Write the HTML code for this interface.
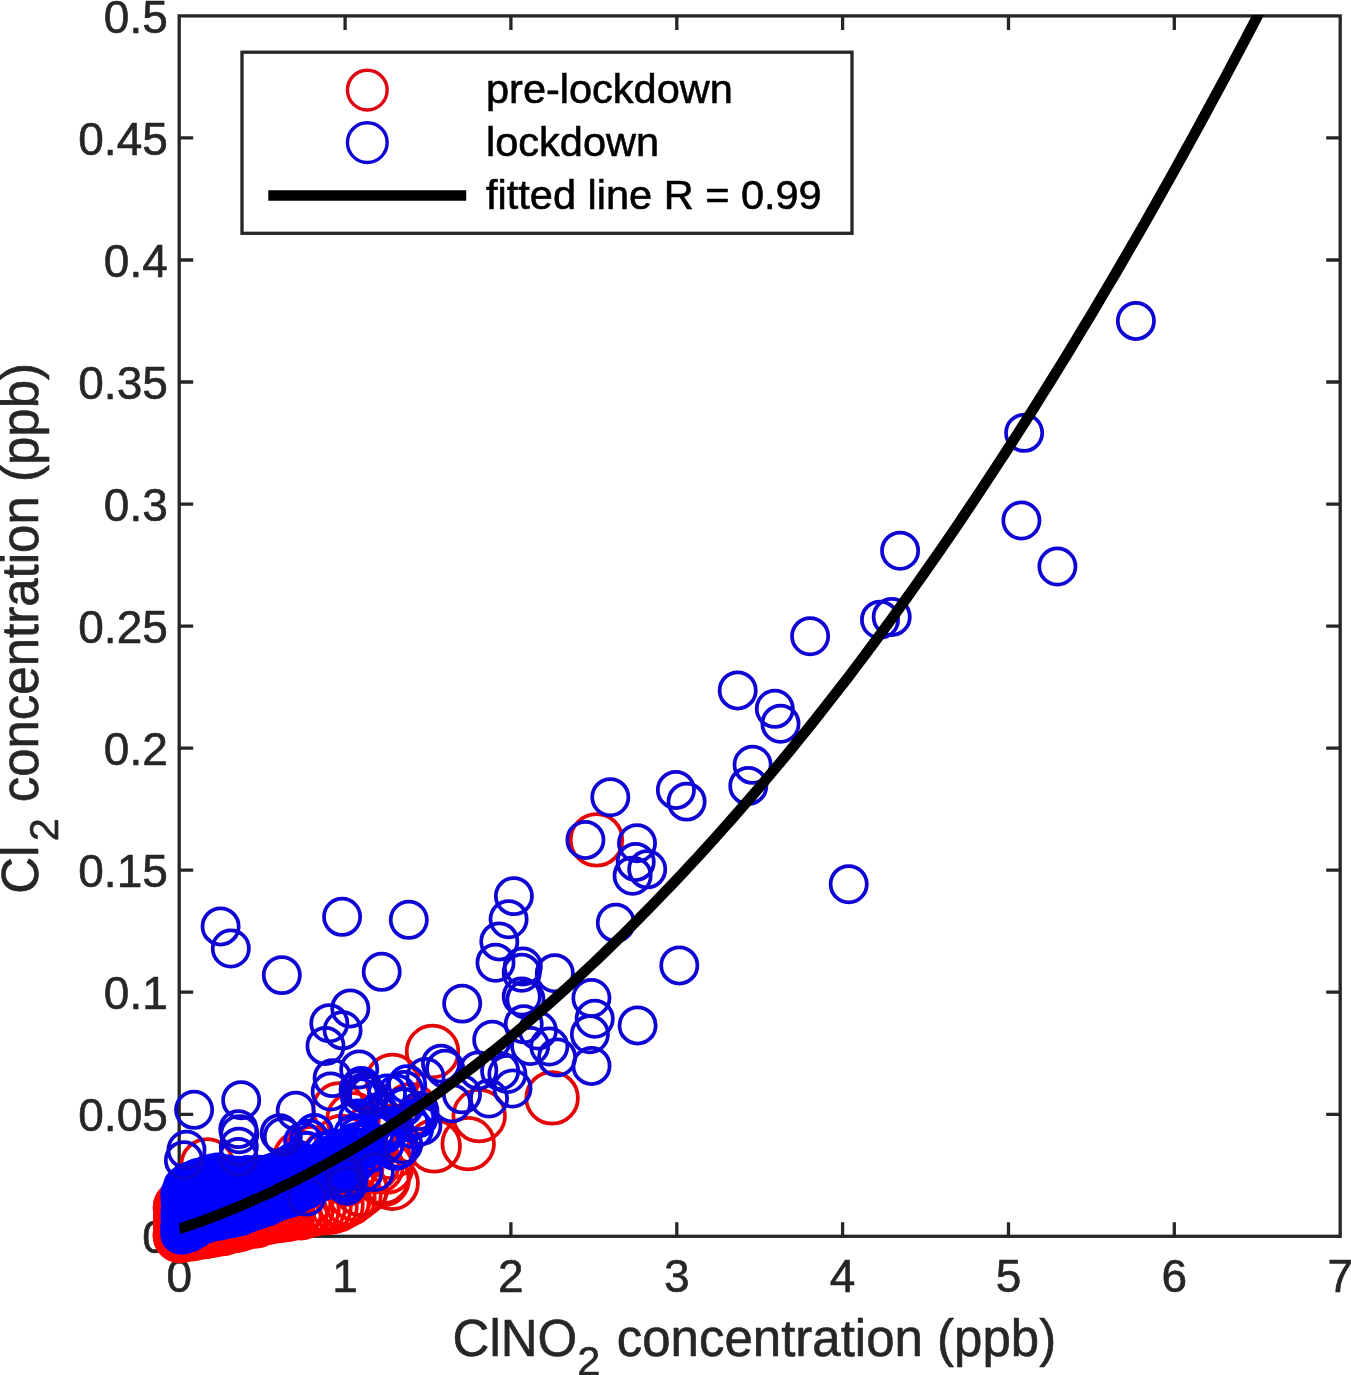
<!DOCTYPE html>
<html lang="en">
<head>
<meta charset="utf-8">
<title>Cl2 vs ClNO2 concentration</title>
<style>
html,body{margin:0;padding:0;background:#fff;}
body{width:1351px;height:1375px;overflow:hidden;}
svg{display:block;}
text{font-family:"Liberation Sans",Arial,Helvetica,sans-serif;fill:#262626;stroke:#262626;stroke-width:0.6px;stroke-linejoin:round;}
.tk{font-size:46.0px;}
.lg{font-size:41.5px;fill:#000;stroke:#000;}
.ax{font-size:51.0px;}
.sb{font-size:41.5px;}
.r{fill:none;stroke:#e40606;stroke-width:3.75;}
.b{fill:none;stroke:#0e04d4;stroke-width:3.75;}
.R{fill:none;stroke:#ff0000;stroke-width:3.75;}
.B{fill:none;stroke:#0000ff;stroke-width:3.75;}
</style>
</head>
<body>
<svg width="1351" height="1375" viewBox="0 0 1351 1375">
<rect x="0" y="0" width="1351" height="1375" fill="#fff"/>
<g stroke="#262626" stroke-width="3.3" fill="none" stroke-linecap="butt">
<rect x="179.2" y="15.9" width="1161.0" height="1220.4"/>
<path d="M345.1 15.9 v14.0 M510.9 1236.3 v-14.0 M510.9 15.9 v14.0 M676.8 1236.3 v-14.0 M676.8 15.9 v14.0 M842.6 1236.3 v-14.0 M842.6 15.9 v14.0 M1008.5 1236.3 v-14.0 M1008.5 15.9 v14.0 M1174.3 1236.3 v-14.0 M1174.3 15.9 v14.0 M179.2 1114.3 h14.0 M1340.2 1114.3 h-14.0 M179.2 992.2 h14.0 M1340.2 992.2 h-14.0 M179.2 870.2 h14.0 M1340.2 870.2 h-14.0 M179.2 748.1 h14.0 M1340.2 748.1 h-14.0 M179.2 626.1 h14.0 M1340.2 626.1 h-14.0 M179.2 504.1 h14.0 M1340.2 504.1 h-14.0 M179.2 382.0 h14.0 M1340.2 382.0 h-14.0 M179.2 260.0 h14.0 M1340.2 260.0 h-14.0 M179.2 137.9 h14.0 M1340.2 137.9 h-14.0"/>
</g>
<g class="tk" text-anchor="middle">
<text x="179.2" y="1291.7">0</text>
<text x="345.1" y="1291.7">1</text>
<text x="510.9" y="1291.7">2</text>
<text x="676.8" y="1291.7">3</text>
<text x="842.6" y="1291.7">4</text>
<text x="1008.5" y="1291.7">5</text>
<text x="1174.3" y="1291.7">6</text>
<text x="1340.2" y="1291.7">7</text>
</g>
<g class="tk" text-anchor="end">
<text x="167.8" y="1253.2">0</text>
<text x="167.8" y="1131.2">0.05</text>
<text x="167.8" y="1009.1">0.1</text>
<text x="167.8" y="887.1">0.15</text>
<text x="167.8" y="765.0">0.2</text>
<text x="167.8" y="643.0">0.25</text>
<text x="167.8" y="521.0">0.3</text>
<text x="167.8" y="398.9">0.35</text>
<text x="167.8" y="276.9">0.4</text>
<text x="167.8" y="154.8">0.45</text>
<text x="167.8" y="32.8">0.5</text>
</g>
<text class="ax" x="452.6" y="1355.6">ClNO<tspan class="sb" dy="19.5">2</tspan><tspan dy="-19.5" dx="2.2"> concentration (ppb)</tspan></text>
<text class="ax" transform="translate(38.0 893.8) rotate(-90)">Cl<tspan class="sb" dy="19.5" dx="4.5">2</tspan><tspan dy="-19.5" dx="1.5"> concentration (ppb)</tspan></text>
<g id="points">
<circle class="R" cx="249.1" cy="1215.4" r="25.8"/>
<circle class="R" cx="247.1" cy="1201.1" r="25.8"/>
<circle class="R" cx="275.1" cy="1194.5" r="25.8"/>
<circle class="R" cx="215.4" cy="1219.8" r="25.8"/>
<circle class="R" cx="258.1" cy="1205.3" r="25.8"/>
<circle class="R" cx="198.9" cy="1202.0" r="25.8"/>
<circle class="R" cx="217.0" cy="1208.7" r="25.8"/>
<circle class="R" cx="232.9" cy="1205.1" r="25.8"/>
<circle class="R" cx="236.5" cy="1222.7" r="25.8"/>
<circle class="R" cx="272.5" cy="1195.1" r="25.8"/>
<circle class="R" cx="191.6" cy="1232.7" r="25.8"/>
<circle class="R" cx="281.1" cy="1189.8" r="25.8"/>
<circle class="R" cx="254.2" cy="1194.4" r="25.8"/>
<circle class="R" cx="251.2" cy="1219.3" r="25.8"/>
<circle class="R" cx="199.5" cy="1210.1" r="25.8"/>
<circle class="R" cx="195.8" cy="1220.4" r="25.8"/>
<circle class="R" cx="247.7" cy="1196.4" r="25.8"/>
<circle class="R" cx="273.2" cy="1212.0" r="25.8"/>
<circle class="R" cx="233.2" cy="1210.6" r="25.8"/>
<circle class="R" cx="268.0" cy="1207.8" r="25.8"/>
<circle class="R" cx="250.0" cy="1202.7" r="25.8"/>
<circle class="R" cx="204.4" cy="1216.8" r="25.8"/>
<circle class="R" cx="234.2" cy="1192.5" r="25.8"/>
<circle class="R" cx="227.1" cy="1212.7" r="25.8"/>
<circle class="R" cx="277.8" cy="1188.4" r="25.8"/>
<circle class="R" cx="284.3" cy="1206.0" r="25.8"/>
<circle class="R" cx="257.4" cy="1219.3" r="25.8"/>
<circle class="R" cx="271.1" cy="1189.2" r="25.8"/>
<circle class="R" cx="231.7" cy="1199.6" r="25.8"/>
<circle class="R" cx="248.3" cy="1219.6" r="25.8"/>
<circle class="R" cx="263.8" cy="1203.1" r="25.8"/>
<circle class="R" cx="187.1" cy="1230.1" r="25.8"/>
<circle class="R" cx="206.5" cy="1223.4" r="25.8"/>
<circle class="R" cx="236.5" cy="1219.8" r="25.8"/>
<circle class="R" cx="209.6" cy="1217.2" r="25.8"/>
<circle class="R" cx="238.4" cy="1216.8" r="25.8"/>
<circle class="R" cx="205.6" cy="1223.4" r="25.8"/>
<circle class="R" cx="261.0" cy="1204.9" r="25.8"/>
<circle class="R" cx="263.7" cy="1191.8" r="25.8"/>
<circle class="R" cx="190.8" cy="1203.1" r="25.8"/>
<circle class="R" cx="270.8" cy="1211.8" r="25.8"/>
<circle class="R" cx="199.3" cy="1211.2" r="25.8"/>
<circle class="R" cx="244.9" cy="1219.2" r="25.8"/>
<circle class="R" cx="283.7" cy="1188.8" r="25.8"/>
<circle class="R" cx="272.1" cy="1208.1" r="25.8"/>
<circle class="R" cx="250.3" cy="1203.0" r="25.8"/>
<circle class="R" cx="215.9" cy="1204.8" r="25.8"/>
<circle class="R" cx="209.5" cy="1215.8" r="25.8"/>
<circle class="R" cx="199.2" cy="1202.6" r="25.8"/>
<circle class="R" cx="229.1" cy="1196.5" r="25.8"/>
<circle class="R" cx="278.8" cy="1202.9" r="25.8"/>
<circle class="R" cx="200.8" cy="1231.1" r="25.8"/>
<circle class="R" cx="257.4" cy="1199.6" r="25.8"/>
<circle class="R" cx="223.0" cy="1198.0" r="25.8"/>
<circle class="R" cx="224.8" cy="1221.0" r="25.8"/>
<circle class="R" cx="228.1" cy="1209.5" r="25.8"/>
<circle class="R" cx="216.6" cy="1218.3" r="25.8"/>
<circle class="R" cx="240.9" cy="1199.8" r="25.8"/>
<circle class="R" cx="210.3" cy="1224.5" r="25.8"/>
<circle class="R" cx="227.9" cy="1224.2" r="25.8"/>
<circle class="R" cx="258.1" cy="1207.1" r="25.8"/>
<circle class="R" cx="187.0" cy="1216.3" r="25.8"/>
<circle class="R" cx="226.5" cy="1225.3" r="25.8"/>
<circle class="R" cx="253.1" cy="1210.2" r="25.8"/>
<circle class="R" cx="223.4" cy="1197.4" r="25.8"/>
<circle class="R" cx="206.6" cy="1209.8" r="25.8"/>
<circle class="R" cx="266.2" cy="1213.2" r="25.8"/>
<circle class="R" cx="237.5" cy="1194.3" r="25.8"/>
<circle class="R" cx="189.6" cy="1213.8" r="25.8"/>
<circle class="R" cx="256.0" cy="1209.6" r="25.8"/>
<circle class="R" cx="274.3" cy="1214.8" r="25.8"/>
<circle class="R" cx="246.6" cy="1204.9" r="25.8"/>
<circle class="R" cx="229.0" cy="1202.9" r="25.8"/>
<circle class="R" cx="243.7" cy="1221.6" r="25.8"/>
<circle class="R" cx="284.2" cy="1194.8" r="25.8"/>
<circle class="R" cx="248.4" cy="1212.0" r="25.8"/>
<circle class="R" cx="187.3" cy="1217.6" r="25.8"/>
<circle class="R" cx="249.0" cy="1196.4" r="25.8"/>
<circle class="R" cx="202.2" cy="1209.6" r="25.8"/>
<circle class="R" cx="221.6" cy="1218.9" r="25.8"/>
<circle class="R" cx="197.8" cy="1220.3" r="25.8"/>
<circle class="R" cx="258.0" cy="1196.2" r="25.8"/>
<circle class="R" cx="256.8" cy="1212.8" r="25.8"/>
<circle class="R" cx="229.4" cy="1192.6" r="25.8"/>
<circle class="R" cx="279.2" cy="1212.1" r="25.8"/>
<circle class="R" cx="217.1" cy="1212.4" r="25.8"/>
<circle class="R" cx="191.9" cy="1226.4" r="25.8"/>
<circle class="R" cx="233.4" cy="1195.7" r="25.8"/>
<circle class="R" cx="193.9" cy="1203.5" r="25.8"/>
<circle class="R" cx="211.1" cy="1221.7" r="25.8"/>
<circle class="R" cx="223.6" cy="1194.7" r="25.8"/>
<circle class="R" cx="227.6" cy="1211.4" r="25.8"/>
<circle class="R" cx="269.4" cy="1189.0" r="25.8"/>
<circle class="R" cx="196.5" cy="1231.1" r="25.8"/>
<circle class="R" cx="222.9" cy="1214.2" r="25.8"/>
<circle class="R" cx="281.2" cy="1196.1" r="25.8"/>
<circle class="R" cx="196.4" cy="1226.2" r="25.8"/>
<circle class="R" cx="254.9" cy="1193.6" r="25.8"/>
<circle class="R" cx="183.3" cy="1208.4" r="25.8"/>
<circle class="R" cx="281.5" cy="1203.5" r="25.8"/>
<circle class="R" cx="185.1" cy="1216.9" r="25.8"/>
<circle class="R" cx="207.6" cy="1198.8" r="25.8"/>
<circle class="R" cx="214.7" cy="1211.1" r="25.8"/>
<circle class="R" cx="273.1" cy="1214.9" r="25.8"/>
<circle class="R" cx="232.7" cy="1222.0" r="25.8"/>
<circle class="R" cx="211.6" cy="1220.2" r="25.8"/>
<circle class="R" cx="218.8" cy="1208.4" r="25.8"/>
<circle class="R" cx="217.8" cy="1208.6" r="25.8"/>
<circle class="R" cx="185.5" cy="1229.4" r="25.8"/>
<circle class="R" cx="235.6" cy="1209.5" r="25.8"/>
<circle class="R" cx="203.6" cy="1199.8" r="25.8"/>
<circle class="R" cx="213.2" cy="1211.1" r="25.8"/>
<circle class="R" cx="258.8" cy="1203.4" r="25.8"/>
<circle class="R" cx="222.9" cy="1226.5" r="25.8"/>
<circle class="R" cx="242.4" cy="1221.6" r="25.8"/>
<circle class="R" cx="242.9" cy="1202.3" r="25.8"/>
<circle class="R" cx="244.1" cy="1209.2" r="25.8"/>
<circle class="R" cx="232.4" cy="1209.0" r="25.8"/>
<circle class="R" cx="185.9" cy="1206.9" r="25.8"/>
<circle class="R" cx="208.6" cy="1222.7" r="25.8"/>
<circle class="R" cx="270.3" cy="1198.2" r="25.8"/>
<circle class="R" cx="251.5" cy="1191.8" r="25.8"/>
<circle class="R" cx="267.4" cy="1196.5" r="25.8"/>
<circle class="R" cx="266.1" cy="1211.3" r="25.8"/>
<circle class="R" cx="186.2" cy="1227.0" r="25.8"/>
<circle class="R" cx="245.7" cy="1207.7" r="25.8"/>
<circle class="R" cx="247.2" cy="1190.4" r="25.8"/>
<circle class="R" cx="259.1" cy="1206.2" r="25.8"/>
<circle class="R" cx="257.5" cy="1201.4" r="25.8"/>
<circle class="R" cx="283.3" cy="1212.0" r="25.8"/>
<circle class="R" cx="262.1" cy="1201.2" r="25.8"/>
<circle class="R" cx="219.9" cy="1208.9" r="25.8"/>
<circle class="R" cx="192.7" cy="1211.3" r="25.8"/>
<circle class="R" cx="187.8" cy="1206.8" r="25.8"/>
<circle class="R" cx="250.1" cy="1206.8" r="25.8"/>
<circle class="R" cx="192.7" cy="1211.0" r="25.8"/>
<circle class="R" cx="239.0" cy="1221.1" r="25.8"/>
<circle class="R" cx="223.7" cy="1211.4" r="25.8"/>
<circle class="R" cx="193.2" cy="1228.7" r="25.8"/>
<circle class="R" cx="183.6" cy="1217.9" r="25.8"/>
<circle class="R" cx="250.9" cy="1218.8" r="25.8"/>
<circle class="R" cx="252.5" cy="1201.3" r="25.8"/>
<circle class="R" cx="191.3" cy="1225.0" r="25.8"/>
<circle class="R" cx="241.6" cy="1197.0" r="25.8"/>
<circle class="R" cx="197.5" cy="1210.6" r="25.8"/>
<circle class="R" cx="234.7" cy="1204.3" r="25.8"/>
<circle class="R" cx="268.5" cy="1197.2" r="25.8"/>
<circle class="R" cx="230.6" cy="1225.1" r="25.8"/>
<circle class="R" cx="253.3" cy="1196.3" r="25.8"/>
<circle class="R" cx="256.8" cy="1206.5" r="25.8"/>
<circle class="R" cx="187.0" cy="1228.7" r="25.8"/>
<circle class="R" cx="255.3" cy="1202.3" r="25.8"/>
<circle class="R" cx="238.9" cy="1222.9" r="25.8"/>
<circle class="R" cx="228.0" cy="1208.9" r="25.8"/>
<circle class="R" cx="259.2" cy="1191.3" r="25.8"/>
<circle class="R" cx="269.0" cy="1186.9" r="25.8"/>
<circle class="R" cx="239.8" cy="1208.8" r="25.8"/>
<circle class="R" cx="196.2" cy="1230.6" r="25.8"/>
<circle class="R" cx="264.7" cy="1189.9" r="25.8"/>
<circle class="R" cx="203.2" cy="1203.4" r="25.8"/>
<circle class="R" cx="244.1" cy="1194.0" r="25.8"/>
<circle class="R" cx="241.3" cy="1219.8" r="25.8"/>
<circle class="R" cx="252.5" cy="1200.5" r="25.8"/>
<circle class="R" cx="255.5" cy="1197.8" r="25.8"/>
<circle class="R" cx="256.4" cy="1196.8" r="25.8"/>
<circle class="R" cx="182.4" cy="1221.4" r="25.8"/>
<circle class="R" cx="211.0" cy="1203.3" r="25.8"/>
<circle class="R" cx="231.1" cy="1201.0" r="25.8"/>
<circle class="R" cx="209.4" cy="1212.5" r="25.8"/>
<circle class="R" cx="197.1" cy="1227.4" r="25.8"/>
<circle class="R" cx="244.1" cy="1207.7" r="25.8"/>
<circle class="R" cx="236.3" cy="1213.1" r="25.8"/>
<circle class="R" cx="261.5" cy="1195.7" r="25.8"/>
<circle class="R" cx="278.4" cy="1195.1" r="25.8"/>
<circle class="R" cx="204.7" cy="1211.6" r="25.8"/>
<circle class="R" cx="256.7" cy="1218.1" r="25.8"/>
<circle class="R" cx="239.6" cy="1202.1" r="25.8"/>
<circle class="R" cx="279.8" cy="1186.6" r="25.8"/>
<circle class="R" cx="249.1" cy="1191.7" r="25.8"/>
<circle class="R" cx="191.0" cy="1219.6" r="25.8"/>
<circle class="R" cx="283.8" cy="1192.1" r="25.8"/>
<circle class="R" cx="186.7" cy="1223.9" r="25.8"/>
<circle class="R" cx="183.4" cy="1222.0" r="25.8"/>
<circle class="R" cx="252.0" cy="1216.2" r="25.8"/>
<circle class="R" cx="234.9" cy="1193.9" r="25.8"/>
<circle class="R" cx="199.6" cy="1215.7" r="25.8"/>
<circle class="R" cx="232.5" cy="1198.3" r="25.8"/>
<circle class="R" cx="224.0" cy="1209.6" r="25.8"/>
<circle class="R" cx="231.3" cy="1210.6" r="25.8"/>
<circle class="R" cx="239.1" cy="1195.2" r="25.8"/>
<circle class="R" cx="215.4" cy="1218.4" r="25.8"/>
<circle class="R" cx="282.5" cy="1213.2" r="25.8"/>
<circle class="R" cx="270.2" cy="1215.1" r="25.8"/>
<circle class="R" cx="231.6" cy="1211.7" r="25.8"/>
<circle class="R" cx="244.5" cy="1209.9" r="25.8"/>
<circle class="R" cx="189.3" cy="1218.6" r="25.8"/>
<circle class="R" cx="183.6" cy="1208.3" r="25.8"/>
<circle class="R" cx="280.5" cy="1183.6" r="25.8"/>
<circle class="R" cx="267.2" cy="1207.9" r="25.8"/>
<circle class="R" cx="241.0" cy="1215.3" r="25.8"/>
<circle class="R" cx="180.4" cy="1208.4" r="25.8"/>
<circle class="R" cx="282.4" cy="1209.4" r="25.8"/>
<circle class="R" cx="215.4" cy="1206.0" r="25.8"/>
<circle class="R" cx="260.9" cy="1195.9" r="25.8"/>
<circle class="R" cx="235.4" cy="1202.4" r="25.8"/>
<circle class="R" cx="227.9" cy="1200.3" r="25.8"/>
<circle class="R" cx="198.7" cy="1203.5" r="25.8"/>
<circle class="R" cx="230.5" cy="1218.5" r="25.8"/>
<circle class="R" cx="205.2" cy="1218.4" r="25.8"/>
<circle class="R" cx="235.0" cy="1199.8" r="25.8"/>
<circle class="R" cx="199.6" cy="1205.9" r="25.8"/>
<circle class="R" cx="214.8" cy="1219.3" r="25.8"/>
<circle class="R" cx="263.0" cy="1204.1" r="25.8"/>
<circle class="R" cx="260.2" cy="1195.6" r="25.8"/>
<circle class="R" cx="223.7" cy="1227.2" r="25.8"/>
<circle class="R" cx="217.6" cy="1225.4" r="25.8"/>
<circle class="R" cx="220.8" cy="1197.9" r="25.8"/>
<circle class="R" cx="262.2" cy="1198.0" r="25.8"/>
<circle class="R" cx="220.0" cy="1203.3" r="25.8"/>
<circle class="R" cx="257.9" cy="1203.2" r="25.8"/>
<circle class="R" cx="180.3" cy="1234.5" r="25.8"/>
<circle class="R" cx="183.3" cy="1234.8" r="25.8"/>
<circle class="R" cx="186.3" cy="1233.9" r="25.8"/>
<circle class="R" cx="189.3" cy="1232.7" r="25.8"/>
<circle class="R" cx="192.3" cy="1233.8" r="25.8"/>
<circle class="R" cx="195.3" cy="1231.6" r="25.8"/>
<circle class="R" cx="198.3" cy="1231.2" r="25.8"/>
<circle class="R" cx="201.3" cy="1231.9" r="25.8"/>
<circle class="R" cx="204.3" cy="1231.5" r="25.8"/>
<circle class="R" cx="207.3" cy="1230.9" r="25.8"/>
<circle class="R" cx="210.3" cy="1229.2" r="25.8"/>
<circle class="R" cx="213.3" cy="1230.0" r="25.8"/>
<circle class="R" cx="216.3" cy="1228.0" r="25.8"/>
<circle class="R" cx="219.3" cy="1228.7" r="25.8"/>
<circle class="R" cx="222.3" cy="1228.7" r="25.8"/>
<circle class="R" cx="225.3" cy="1226.5" r="25.8"/>
<circle class="R" cx="228.3" cy="1225.6" r="25.8"/>
<circle class="R" cx="231.3" cy="1226.0" r="25.8"/>
<circle class="R" cx="234.3" cy="1225.6" r="25.8"/>
<circle class="R" cx="237.3" cy="1224.5" r="25.8"/>
<circle class="R" cx="240.3" cy="1224.2" r="25.8"/>
<circle class="R" cx="243.3" cy="1222.6" r="25.8"/>
<circle class="R" cx="246.3" cy="1221.8" r="25.8"/>
<circle class="R" cx="249.3" cy="1220.7" r="25.8"/>
<circle class="R" cx="252.3" cy="1220.3" r="25.8"/>
<circle class="R" cx="255.3" cy="1221.0" r="25.8"/>
<circle class="R" cx="258.3" cy="1218.6" r="25.8"/>
<circle class="R" cx="261.3" cy="1218.2" r="25.8"/>
<circle class="R" cx="264.3" cy="1218.0" r="25.8"/>
<circle class="R" cx="267.3" cy="1216.8" r="25.8"/>
<circle class="R" cx="270.3" cy="1216.7" r="25.8"/>
<circle class="R" cx="273.3" cy="1215.9" r="25.8"/>
<circle class="R" cx="276.3" cy="1215.2" r="25.8"/>
<circle class="R" cx="279.3" cy="1215.5" r="25.8"/>
<circle class="R" cx="282.3" cy="1214.9" r="25.8"/>
<circle class="R" cx="285.3" cy="1214.4" r="25.8"/>
<circle class="R" cx="288.3" cy="1214.2" r="25.8"/>
<circle class="R" cx="295.0" cy="1212.7" r="25.8"/>
<circle class="R" cx="301.0" cy="1212.8" r="25.8"/>
<circle class="R" cx="307.0" cy="1209.8" r="25.8"/>
<circle class="R" cx="313.0" cy="1209.2" r="25.8"/>
<circle class="R" cx="319.0" cy="1208.0" r="25.8"/>
<circle class="R" cx="325.0" cy="1207.6" r="25.8"/>
<circle class="R" cx="331.0" cy="1207.0" r="25.8"/>
<circle class="R" cx="337.0" cy="1205.1" r="25.8"/>
<circle class="R" cx="343.0" cy="1201.7" r="25.8"/>
<circle class="R" cx="349.0" cy="1198.6" r="25.8"/>
<circle class="R" cx="355.0" cy="1194.2" r="25.8"/>
<circle class="R" cx="361.0" cy="1189.5" r="25.8"/>
<circle class="R" cx="180.5" cy="1207.0" r="25.8"/>
<circle class="R" cx="180.9" cy="1210.0" r="25.8"/>
<circle class="R" cx="181.1" cy="1213.0" r="25.8"/>
<circle class="R" cx="180.7" cy="1216.0" r="25.8"/>
<circle class="R" cx="180.8" cy="1219.0" r="25.8"/>
<circle class="R" cx="181.0" cy="1222.0" r="25.8"/>
<circle class="R" cx="180.7" cy="1225.0" r="25.8"/>
<circle class="R" cx="180.5" cy="1228.0" r="25.8"/>
<circle class="R" cx="181.1" cy="1231.0" r="25.8"/>
<circle class="R" cx="181.1" cy="1234.0" r="25.8"/>
<circle class="R" cx="180.3" cy="1235.7" r="25.8"/>
<circle class="R" cx="372.7" cy="1164.4" r="25.8"/>
<circle class="R" cx="303.7" cy="1182.7" r="25.8"/>
<circle class="R" cx="309.3" cy="1175.3" r="25.8"/>
<circle class="R" cx="376.9" cy="1166.7" r="25.8"/>
<circle class="R" cx="338.5" cy="1171.3" r="25.8"/>
<circle class="R" cx="320.0" cy="1172.4" r="25.8"/>
<circle class="R" cx="356.2" cy="1170.7" r="25.8"/>
<circle class="R" cx="356.7" cy="1168.5" r="25.8"/>
<circle class="R" cx="386.6" cy="1167.2" r="25.8"/>
<circle class="R" cx="347.1" cy="1179.0" r="25.8"/>
<circle class="R" cx="390.1" cy="1152.3" r="25.8"/>
<circle class="R" cx="383.1" cy="1179.7" r="25.8"/>
<circle class="R" cx="343.5" cy="1200.9" r="25.8"/>
<circle class="R" cx="304.7" cy="1201.5" r="25.8"/>
<circle class="R" cx="352.1" cy="1165.1" r="25.8"/>
<circle class="R" cx="317.7" cy="1175.3" r="25.8"/>
<circle class="R" cx="341.7" cy="1141.5" r="25.8"/>
<circle class="R" cx="410.7" cy="1109.6" r="25.8"/>
<circle class="R" cx="300.2" cy="1157.3" r="25.8"/>
<circle class="R" cx="368.9" cy="1132.3" r="25.8"/>
<circle class="R" cx="310.8" cy="1152.7" r="25.8"/>
<circle class="R" cx="377.0" cy="1141.8" r="25.8"/>
<circle class="R" cx="353.1" cy="1118.8" r="25.8"/>
<circle class="R" cx="328.1" cy="1157.1" r="25.8"/>
<circle class="r" cx="596.5" cy="839.9" r="25.8"/>
<circle class="r" cx="432.5" cy="1051.5" r="25.8"/>
<circle class="r" cx="552.1" cy="1097.9" r="25.8"/>
<circle class="r" cx="479.2" cy="1115.7" r="25.8"/>
<circle class="r" cx="468.2" cy="1143.7" r="25.8"/>
<circle class="r" cx="434.2" cy="1145.9" r="25.8"/>
<circle class="r" cx="207.2" cy="1164.9" r="25.8"/>
<circle class="r" cx="392.4" cy="1080.4" r="25.8"/>
<circle class="r" cx="339.1" cy="1109.0" r="25.8"/>
<circle class="r" cx="392.1" cy="1183.3" r="25.8"/>
<circle class="r" cx="382.7" cy="1177.7" r="25.8"/>
<circle class="r" cx="361.1" cy="1189.3" r="25.8"/>
<circle class="B" cx="232.6" cy="1205.7" r="18.1"/>
<circle class="B" cx="234.2" cy="1204.2" r="18.1"/>
<circle class="B" cx="201.7" cy="1208.8" r="18.1"/>
<circle class="B" cx="272.0" cy="1188.6" r="18.1"/>
<circle class="B" cx="190.8" cy="1223.4" r="18.1"/>
<circle class="B" cx="185.1" cy="1232.9" r="18.1"/>
<circle class="B" cx="256.0" cy="1202.2" r="18.1"/>
<circle class="B" cx="182.0" cy="1215.0" r="18.1"/>
<circle class="B" cx="202.3" cy="1199.8" r="18.1"/>
<circle class="B" cx="234.0" cy="1202.5" r="18.1"/>
<circle class="B" cx="240.4" cy="1206.7" r="18.1"/>
<circle class="B" cx="256.9" cy="1198.7" r="18.1"/>
<circle class="B" cx="295.7" cy="1194.0" r="18.1"/>
<circle class="B" cx="262.2" cy="1194.8" r="18.1"/>
<circle class="B" cx="213.7" cy="1193.7" r="18.1"/>
<circle class="B" cx="226.6" cy="1214.2" r="18.1"/>
<circle class="B" cx="291.1" cy="1193.4" r="18.1"/>
<circle class="B" cx="204.6" cy="1220.6" r="18.1"/>
<circle class="B" cx="293.7" cy="1183.6" r="18.1"/>
<circle class="B" cx="253.1" cy="1206.4" r="18.1"/>
<circle class="B" cx="190.4" cy="1205.5" r="18.1"/>
<circle class="B" cx="268.0" cy="1190.3" r="18.1"/>
<circle class="B" cx="192.0" cy="1195.0" r="18.1"/>
<circle class="B" cx="200.9" cy="1210.6" r="18.1"/>
<circle class="B" cx="202.4" cy="1215.8" r="18.1"/>
<circle class="B" cx="254.8" cy="1192.0" r="18.1"/>
<circle class="B" cx="204.9" cy="1200.3" r="18.1"/>
<circle class="B" cx="273.3" cy="1191.6" r="18.1"/>
<circle class="B" cx="204.7" cy="1204.3" r="18.1"/>
<circle class="B" cx="254.6" cy="1191.7" r="18.1"/>
<circle class="B" cx="205.0" cy="1200.0" r="18.1"/>
<circle class="B" cx="218.4" cy="1200.0" r="18.1"/>
<circle class="B" cx="190.7" cy="1214.9" r="18.1"/>
<circle class="B" cx="249.9" cy="1198.3" r="18.1"/>
<circle class="B" cx="291.3" cy="1186.5" r="18.1"/>
<circle class="B" cx="280.6" cy="1186.0" r="18.1"/>
<circle class="B" cx="285.4" cy="1195.3" r="18.1"/>
<circle class="B" cx="202.3" cy="1216.1" r="18.1"/>
<circle class="B" cx="203.0" cy="1222.6" r="18.1"/>
<circle class="B" cx="250.1" cy="1199.3" r="18.1"/>
<circle class="B" cx="184.8" cy="1232.3" r="18.1"/>
<circle class="B" cx="261.8" cy="1193.8" r="18.1"/>
<circle class="B" cx="249.3" cy="1196.6" r="18.1"/>
<circle class="B" cx="263.6" cy="1189.9" r="18.1"/>
<circle class="B" cx="245.0" cy="1210.5" r="18.1"/>
<circle class="B" cx="212.7" cy="1218.7" r="18.1"/>
<circle class="B" cx="182.2" cy="1204.6" r="18.1"/>
<circle class="B" cx="187.3" cy="1200.2" r="18.1"/>
<circle class="B" cx="246.5" cy="1193.4" r="18.1"/>
<circle class="B" cx="283.4" cy="1199.1" r="18.1"/>
<circle class="B" cx="260.3" cy="1200.4" r="18.1"/>
<circle class="B" cx="184.4" cy="1194.3" r="18.1"/>
<circle class="B" cx="261.4" cy="1207.5" r="18.1"/>
<circle class="B" cx="253.9" cy="1199.8" r="18.1"/>
<circle class="B" cx="217.2" cy="1220.2" r="18.1"/>
<circle class="B" cx="243.5" cy="1208.2" r="18.1"/>
<circle class="B" cx="265.6" cy="1201.2" r="18.1"/>
<circle class="B" cx="286.2" cy="1186.4" r="18.1"/>
<circle class="B" cx="284.5" cy="1196.6" r="18.1"/>
<circle class="B" cx="271.8" cy="1201.8" r="18.1"/>
<circle class="B" cx="252.6" cy="1198.0" r="18.1"/>
<circle class="B" cx="250.7" cy="1191.7" r="18.1"/>
<circle class="B" cx="295.2" cy="1192.0" r="18.1"/>
<circle class="B" cx="225.2" cy="1211.4" r="18.1"/>
<circle class="B" cx="231.3" cy="1213.2" r="18.1"/>
<circle class="B" cx="267.1" cy="1188.8" r="18.1"/>
<circle class="B" cx="235.9" cy="1196.9" r="18.1"/>
<circle class="B" cx="237.8" cy="1206.5" r="18.1"/>
<circle class="B" cx="209.9" cy="1192.1" r="18.1"/>
<circle class="B" cx="258.8" cy="1193.2" r="18.1"/>
<circle class="B" cx="285.1" cy="1192.5" r="18.1"/>
<circle class="B" cx="283.5" cy="1187.2" r="18.1"/>
<circle class="B" cx="203.3" cy="1205.8" r="18.1"/>
<circle class="B" cx="286.1" cy="1196.2" r="18.1"/>
<circle class="B" cx="247.8" cy="1197.4" r="18.1"/>
<circle class="B" cx="237.7" cy="1212.1" r="18.1"/>
<circle class="B" cx="262.6" cy="1206.8" r="18.1"/>
<circle class="B" cx="199.9" cy="1207.2" r="18.1"/>
<circle class="B" cx="205.1" cy="1204.8" r="18.1"/>
<circle class="B" cx="237.4" cy="1199.0" r="18.1"/>
<circle class="B" cx="293.9" cy="1184.6" r="18.1"/>
<circle class="B" cx="183.9" cy="1228.9" r="18.1"/>
<circle class="B" cx="262.3" cy="1199.7" r="18.1"/>
<circle class="B" cx="271.9" cy="1187.4" r="18.1"/>
<circle class="B" cx="232.9" cy="1191.8" r="18.1"/>
<circle class="B" cx="207.8" cy="1196.1" r="18.1"/>
<circle class="B" cx="253.1" cy="1199.3" r="18.1"/>
<circle class="B" cx="256.1" cy="1206.1" r="18.1"/>
<circle class="B" cx="259.5" cy="1193.0" r="18.1"/>
<circle class="B" cx="201.0" cy="1192.3" r="18.1"/>
<circle class="B" cx="262.9" cy="1192.1" r="18.1"/>
<circle class="B" cx="220.3" cy="1211.1" r="18.1"/>
<circle class="B" cx="251.4" cy="1206.4" r="18.1"/>
<circle class="B" cx="271.9" cy="1202.4" r="18.1"/>
<circle class="B" cx="288.2" cy="1192.3" r="18.1"/>
<circle class="B" cx="232.8" cy="1207.4" r="18.1"/>
<circle class="B" cx="223.9" cy="1207.0" r="18.1"/>
<circle class="B" cx="272.5" cy="1202.9" r="18.1"/>
<circle class="B" cx="255.7" cy="1193.7" r="18.1"/>
<circle class="B" cx="275.0" cy="1196.6" r="18.1"/>
<circle class="B" cx="205.0" cy="1220.1" r="18.1"/>
<circle class="B" cx="293.4" cy="1186.4" r="18.1"/>
<circle class="B" cx="217.4" cy="1217.6" r="18.1"/>
<circle class="B" cx="220.6" cy="1193.8" r="18.1"/>
<circle class="B" cx="244.0" cy="1208.8" r="18.1"/>
<circle class="B" cx="183.6" cy="1226.3" r="18.1"/>
<circle class="B" cx="272.8" cy="1189.5" r="18.1"/>
<circle class="B" cx="271.5" cy="1189.7" r="18.1"/>
<circle class="B" cx="240.1" cy="1208.9" r="18.1"/>
<circle class="B" cx="260.1" cy="1207.6" r="18.1"/>
<circle class="B" cx="290.1" cy="1179.6" r="18.1"/>
<circle class="B" cx="241.2" cy="1198.0" r="18.1"/>
<circle class="B" cx="254.2" cy="1200.6" r="18.1"/>
<circle class="B" cx="245.1" cy="1197.8" r="18.1"/>
<circle class="B" cx="278.1" cy="1199.8" r="18.1"/>
<circle class="B" cx="278.7" cy="1200.7" r="18.1"/>
<circle class="B" cx="246.6" cy="1195.0" r="18.1"/>
<circle class="B" cx="238.5" cy="1206.1" r="18.1"/>
<circle class="B" cx="292.5" cy="1186.5" r="18.1"/>
<circle class="B" cx="273.0" cy="1196.1" r="18.1"/>
<circle class="B" cx="260.2" cy="1190.3" r="18.1"/>
<circle class="B" cx="228.2" cy="1216.9" r="18.1"/>
<circle class="B" cx="211.4" cy="1205.8" r="18.1"/>
<circle class="B" cx="230.5" cy="1212.7" r="18.1"/>
<circle class="B" cx="235.4" cy="1199.2" r="18.1"/>
<circle class="B" cx="251.8" cy="1209.9" r="18.1"/>
<circle class="B" cx="270.5" cy="1188.2" r="18.1"/>
<circle class="B" cx="206.6" cy="1212.8" r="18.1"/>
<circle class="B" cx="221.4" cy="1208.8" r="18.1"/>
<circle class="B" cx="264.9" cy="1190.8" r="18.1"/>
<circle class="B" cx="209.3" cy="1197.7" r="18.1"/>
<circle class="B" cx="230.8" cy="1201.1" r="18.1"/>
<circle class="B" cx="241.5" cy="1194.7" r="18.1"/>
<circle class="B" cx="253.3" cy="1203.3" r="18.1"/>
<circle class="B" cx="278.8" cy="1194.4" r="18.1"/>
<circle class="B" cx="207.2" cy="1214.4" r="18.1"/>
<circle class="B" cx="284.7" cy="1186.4" r="18.1"/>
<circle class="B" cx="287.1" cy="1183.5" r="18.1"/>
<circle class="B" cx="283.0" cy="1183.9" r="18.1"/>
<circle class="B" cx="264.4" cy="1193.4" r="18.1"/>
<circle class="B" cx="276.6" cy="1192.1" r="18.1"/>
<circle class="B" cx="194.9" cy="1206.9" r="18.1"/>
<circle class="B" cx="182.4" cy="1201.8" r="18.1"/>
<circle class="B" cx="285.7" cy="1197.9" r="18.1"/>
<circle class="B" cx="238.8" cy="1209.9" r="18.1"/>
<circle class="B" cx="259.6" cy="1192.8" r="18.1"/>
<circle class="B" cx="192.6" cy="1194.1" r="18.1"/>
<circle class="B" cx="239.9" cy="1205.1" r="18.1"/>
<circle class="B" cx="201.7" cy="1198.7" r="18.1"/>
<circle class="B" cx="294.9" cy="1193.1" r="18.1"/>
<circle class="B" cx="187.5" cy="1230.4" r="18.1"/>
<circle class="B" cx="268.8" cy="1193.7" r="18.1"/>
<circle class="B" cx="239.9" cy="1201.6" r="18.1"/>
<circle class="B" cx="181.8" cy="1222.0" r="18.1"/>
<circle class="B" cx="201.3" cy="1207.0" r="18.1"/>
<circle class="B" cx="227.2" cy="1196.6" r="18.1"/>
<circle class="B" cx="239.6" cy="1191.4" r="18.1"/>
<circle class="B" cx="273.1" cy="1198.5" r="18.1"/>
<circle class="B" cx="253.1" cy="1198.4" r="18.1"/>
<circle class="B" cx="238.6" cy="1215.5" r="18.1"/>
<circle class="B" cx="210.2" cy="1219.0" r="18.1"/>
<circle class="B" cx="270.3" cy="1201.6" r="18.1"/>
<circle class="B" cx="284.0" cy="1197.0" r="18.1"/>
<circle class="B" cx="269.1" cy="1201.2" r="18.1"/>
<circle class="B" cx="263.9" cy="1189.9" r="18.1"/>
<circle class="B" cx="234.5" cy="1191.4" r="18.1"/>
<circle class="B" cx="254.2" cy="1202.8" r="18.1"/>
<circle class="B" cx="289.6" cy="1190.7" r="18.1"/>
<circle class="B" cx="256.6" cy="1201.0" r="18.1"/>
<circle class="B" cx="225.4" cy="1218.6" r="18.1"/>
<circle class="B" cx="261.4" cy="1203.6" r="18.1"/>
<circle class="B" cx="182.9" cy="1218.5" r="18.1"/>
<circle class="B" cx="210.0" cy="1203.8" r="18.1"/>
<circle class="B" cx="202.9" cy="1204.1" r="18.1"/>
<circle class="B" cx="209.3" cy="1219.0" r="18.1"/>
<circle class="B" cx="239.1" cy="1215.1" r="18.1"/>
<circle class="B" cx="295.4" cy="1187.3" r="18.1"/>
<circle class="B" cx="189.1" cy="1216.0" r="18.1"/>
<circle class="B" cx="185.5" cy="1230.6" r="18.1"/>
<circle class="B" cx="234.9" cy="1195.5" r="18.1"/>
<circle class="B" cx="251.0" cy="1191.2" r="18.1"/>
<circle class="B" cx="229.0" cy="1205.3" r="18.1"/>
<circle class="B" cx="222.6" cy="1199.4" r="18.1"/>
<circle class="B" cx="245.2" cy="1197.1" r="18.1"/>
<circle class="B" cx="214.6" cy="1192.0" r="18.1"/>
<circle class="B" cx="185.2" cy="1199.7" r="18.1"/>
<circle class="B" cx="225.4" cy="1215.8" r="18.1"/>
<circle class="B" cx="186.1" cy="1232.6" r="18.1"/>
<circle class="B" cx="188.8" cy="1228.0" r="18.1"/>
<circle class="B" cx="235.6" cy="1215.9" r="18.1"/>
<circle class="B" cx="240.9" cy="1213.9" r="18.1"/>
<circle class="B" cx="234.5" cy="1216.2" r="18.1"/>
<circle class="B" cx="250.1" cy="1192.5" r="18.1"/>
<circle class="B" cx="233.0" cy="1196.4" r="18.1"/>
<circle class="B" cx="241.4" cy="1193.9" r="18.1"/>
<circle class="B" cx="257.6" cy="1198.5" r="18.1"/>
<circle class="B" cx="247.7" cy="1199.8" r="18.1"/>
<circle class="B" cx="241.7" cy="1215.0" r="18.1"/>
<circle class="B" cx="265.3" cy="1192.8" r="18.1"/>
<circle class="B" cx="283.6" cy="1195.4" r="18.1"/>
<circle class="B" cx="221.9" cy="1199.0" r="18.1"/>
<circle class="B" cx="245.7" cy="1204.2" r="18.1"/>
<circle class="B" cx="267.5" cy="1191.6" r="18.1"/>
<circle class="B" cx="293.7" cy="1193.5" r="18.1"/>
<circle class="B" cx="184.9" cy="1196.0" r="18.1"/>
<circle class="B" cx="229.5" cy="1207.8" r="18.1"/>
<circle class="B" cx="243.0" cy="1192.4" r="18.1"/>
<circle class="B" cx="258.5" cy="1200.2" r="18.1"/>
<circle class="B" cx="223.5" cy="1204.6" r="18.1"/>
<circle class="B" cx="220.1" cy="1212.5" r="18.1"/>
<circle class="B" cx="188.9" cy="1197.7" r="18.1"/>
<circle class="B" cx="252.5" cy="1206.3" r="18.1"/>
<circle class="B" cx="229.4" cy="1198.1" r="18.1"/>
<circle class="B" cx="223.0" cy="1209.5" r="18.1"/>
<circle class="B" cx="217.9" cy="1207.2" r="18.1"/>
<circle class="B" cx="286.8" cy="1187.5" r="18.1"/>
<circle class="B" cx="191.5" cy="1225.5" r="18.1"/>
<circle class="B" cx="189.9" cy="1214.5" r="18.1"/>
<circle class="B" cx="259.6" cy="1195.0" r="18.1"/>
<circle class="B" cx="189.1" cy="1201.3" r="18.1"/>
<circle class="B" cx="189.8" cy="1204.6" r="18.1"/>
<circle class="B" cx="260.6" cy="1194.5" r="18.1"/>
<circle class="B" cx="221.7" cy="1211.7" r="18.1"/>
<circle class="B" cx="193.9" cy="1218.3" r="18.1"/>
<circle class="B" cx="286.6" cy="1197.1" r="18.1"/>
<circle class="B" cx="231.0" cy="1212.3" r="18.1"/>
<circle class="B" cx="217.0" cy="1203.0" r="18.1"/>
<circle class="B" cx="283.8" cy="1185.6" r="18.1"/>
<circle class="B" cx="222.6" cy="1201.5" r="18.1"/>
<circle class="B" cx="225.1" cy="1196.7" r="18.1"/>
<circle class="B" cx="272.5" cy="1196.0" r="18.1"/>
<circle class="B" cx="245.4" cy="1194.6" r="18.1"/>
<circle class="B" cx="282.2" cy="1187.0" r="18.1"/>
<circle class="B" cx="240.0" cy="1204.4" r="18.1"/>
<circle class="B" cx="292.1" cy="1189.2" r="18.1"/>
<circle class="B" cx="187.7" cy="1214.5" r="18.1"/>
<circle class="B" cx="190.0" cy="1196.1" r="18.1"/>
<circle class="B" cx="284.3" cy="1182.4" r="18.1"/>
<circle class="B" cx="196.9" cy="1218.4" r="18.1"/>
<circle class="B" cx="208.7" cy="1198.4" r="18.1"/>
<circle class="B" cx="240.6" cy="1209.7" r="18.1"/>
<circle class="B" cx="219.4" cy="1218.9" r="18.1"/>
<circle class="B" cx="237.4" cy="1204.6" r="18.1"/>
<circle class="B" cx="262.2" cy="1206.3" r="18.1"/>
<circle class="B" cx="275.9" cy="1196.6" r="18.1"/>
<circle class="B" cx="273.5" cy="1200.5" r="18.1"/>
<circle class="B" cx="291.1" cy="1189.5" r="18.1"/>
<circle class="B" cx="262.5" cy="1204.0" r="18.1"/>
<circle class="B" cx="228.9" cy="1195.2" r="18.1"/>
<circle class="B" cx="295.0" cy="1182.6" r="18.1"/>
<circle class="B" cx="203.9" cy="1205.4" r="18.1"/>
<circle class="B" cx="292.5" cy="1177.9" r="18.1"/>
<circle class="B" cx="193.6" cy="1216.2" r="18.1"/>
<circle class="B" cx="201.1" cy="1194.0" r="18.1"/>
<circle class="B" cx="247.9" cy="1210.9" r="18.1"/>
<circle class="B" cx="192.9" cy="1199.5" r="18.1"/>
<circle class="B" cx="207.5" cy="1213.6" r="18.1"/>
<circle class="B" cx="206.2" cy="1197.5" r="18.1"/>
<circle class="B" cx="200.3" cy="1217.4" r="18.1"/>
<circle class="B" cx="243.7" cy="1210.0" r="18.1"/>
<circle class="B" cx="210.4" cy="1218.3" r="18.1"/>
<circle class="B" cx="219.9" cy="1206.9" r="18.1"/>
<circle class="B" cx="236.1" cy="1196.7" r="18.1"/>
<circle class="B" cx="289.9" cy="1193.1" r="18.1"/>
<circle class="B" cx="241.3" cy="1203.4" r="18.1"/>
<circle class="B" cx="294.9" cy="1188.0" r="18.1"/>
<circle class="B" cx="181.6" cy="1212.8" r="18.1"/>
<circle class="B" cx="272.5" cy="1198.9" r="18.1"/>
<circle class="B" cx="198.5" cy="1197.5" r="18.1"/>
<circle class="B" cx="210.3" cy="1217.7" r="18.1"/>
<circle class="B" cx="254.0" cy="1210.7" r="18.1"/>
<circle class="B" cx="242.2" cy="1194.4" r="18.1"/>
<circle class="B" cx="180.5" cy="1226.8" r="18.1"/>
<circle class="B" cx="275.4" cy="1186.7" r="18.1"/>
<circle class="B" cx="263.2" cy="1190.5" r="18.1"/>
<circle class="B" cx="234.5" cy="1215.6" r="18.1"/>
<circle class="B" cx="279.5" cy="1188.6" r="18.1"/>
<circle class="B" cx="228.5" cy="1215.7" r="18.1"/>
<circle class="B" cx="275.9" cy="1188.7" r="18.1"/>
<circle class="B" cx="241.1" cy="1194.7" r="18.1"/>
<circle class="B" cx="216.3" cy="1200.5" r="18.1"/>
<circle class="B" cx="215.7" cy="1205.1" r="18.1"/>
<circle class="B" cx="221.9" cy="1210.6" r="18.1"/>
<circle class="B" cx="225.9" cy="1203.9" r="18.1"/>
<circle class="B" cx="276.3" cy="1196.2" r="18.1"/>
<circle class="B" cx="223.9" cy="1210.9" r="18.1"/>
<circle class="B" cx="245.6" cy="1201.1" r="18.1"/>
<circle class="B" cx="295.0" cy="1190.6" r="18.1"/>
<circle class="B" cx="251.6" cy="1196.2" r="18.1"/>
<circle class="B" cx="242.8" cy="1197.9" r="18.1"/>
<circle class="B" cx="225.7" cy="1209.5" r="18.1"/>
<circle class="B" cx="203.4" cy="1215.4" r="18.1"/>
<circle class="B" cx="289.6" cy="1188.7" r="18.1"/>
<circle class="B" cx="218.7" cy="1215.0" r="18.1"/>
<circle class="B" cx="196.6" cy="1195.7" r="18.1"/>
<circle class="B" cx="262.2" cy="1192.2" r="18.1"/>
<circle class="B" cx="277.1" cy="1194.8" r="18.1"/>
<circle class="B" cx="206.5" cy="1196.6" r="18.1"/>
<circle class="B" cx="227.4" cy="1193.3" r="18.1"/>
<circle class="B" cx="229.7" cy="1204.8" r="18.1"/>
<circle class="B" cx="269.0" cy="1202.1" r="18.1"/>
<circle class="B" cx="218.6" cy="1203.2" r="18.1"/>
<circle class="B" cx="226.7" cy="1210.2" r="18.1"/>
<circle class="B" cx="271.7" cy="1198.4" r="18.1"/>
<circle class="B" cx="182.4" cy="1207.1" r="18.1"/>
<circle class="B" cx="255.6" cy="1191.7" r="18.1"/>
<circle class="B" cx="239.2" cy="1210.6" r="18.1"/>
<circle class="B" cx="251.0" cy="1193.4" r="18.1"/>
<circle class="B" cx="284.8" cy="1190.6" r="18.1"/>
<circle class="B" cx="238.2" cy="1194.6" r="18.1"/>
<circle class="B" cx="294.5" cy="1185.5" r="18.1"/>
<circle class="B" cx="277.0" cy="1188.0" r="18.1"/>
<circle class="B" cx="252.9" cy="1194.0" r="18.1"/>
<circle class="B" cx="208.6" cy="1209.2" r="18.1"/>
<circle class="B" cx="218.4" cy="1218.0" r="18.1"/>
<circle class="B" cx="233.9" cy="1194.3" r="18.1"/>
<circle class="B" cx="196.0" cy="1224.4" r="18.1"/>
<circle class="B" cx="245.2" cy="1203.6" r="18.1"/>
<circle class="B" cx="285.5" cy="1198.5" r="18.1"/>
<circle class="B" cx="249.9" cy="1192.7" r="18.1"/>
<circle class="B" cx="180.3" cy="1193.5" r="18.1"/>
<circle class="B" cx="183.3" cy="1194.5" r="18.1"/>
<circle class="B" cx="186.3" cy="1192.9" r="18.1"/>
<circle class="B" cx="189.3" cy="1193.2" r="18.1"/>
<circle class="B" cx="192.3" cy="1193.4" r="18.1"/>
<circle class="B" cx="195.3" cy="1191.8" r="18.1"/>
<circle class="B" cx="198.3" cy="1192.3" r="18.1"/>
<circle class="B" cx="201.3" cy="1191.1" r="18.1"/>
<circle class="B" cx="204.3" cy="1191.0" r="18.1"/>
<circle class="B" cx="207.3" cy="1191.2" r="18.1"/>
<circle class="B" cx="210.3" cy="1192.7" r="18.1"/>
<circle class="B" cx="213.3" cy="1192.5" r="18.1"/>
<circle class="B" cx="216.3" cy="1191.9" r="18.1"/>
<circle class="B" cx="219.3" cy="1191.1" r="18.1"/>
<circle class="B" cx="222.3" cy="1191.8" r="18.1"/>
<circle class="B" cx="225.3" cy="1191.8" r="18.1"/>
<circle class="B" cx="228.3" cy="1191.1" r="18.1"/>
<circle class="B" cx="231.3" cy="1191.4" r="18.1"/>
<circle class="B" cx="234.3" cy="1191.8" r="18.1"/>
<circle class="B" cx="237.3" cy="1190.1" r="18.1"/>
<circle class="B" cx="240.3" cy="1190.4" r="18.1"/>
<circle class="B" cx="243.3" cy="1190.6" r="18.1"/>
<circle class="B" cx="246.3" cy="1189.7" r="18.1"/>
<circle class="B" cx="249.3" cy="1189.8" r="18.1"/>
<circle class="B" cx="252.3" cy="1189.9" r="18.1"/>
<circle class="B" cx="255.3" cy="1188.8" r="18.1"/>
<circle class="B" cx="258.3" cy="1189.2" r="18.1"/>
<circle class="B" cx="261.3" cy="1188.4" r="18.1"/>
<circle class="B" cx="264.3" cy="1188.7" r="18.1"/>
<circle class="B" cx="267.3" cy="1187.9" r="18.1"/>
<circle class="B" cx="270.3" cy="1188.1" r="18.1"/>
<circle class="B" cx="273.3" cy="1185.4" r="18.1"/>
<circle class="B" cx="276.3" cy="1185.2" r="18.1"/>
<circle class="B" cx="279.3" cy="1182.6" r="18.1"/>
<circle class="B" cx="282.3" cy="1182.8" r="18.1"/>
<circle class="B" cx="285.3" cy="1180.6" r="18.1"/>
<circle class="B" cx="288.3" cy="1178.8" r="18.1"/>
<circle class="B" cx="291.3" cy="1177.2" r="18.1"/>
<circle class="B" cx="294.3" cy="1176.1" r="18.1"/>
<circle class="B" cx="297.3" cy="1174.7" r="18.1"/>
<circle class="B" cx="180.3" cy="1234.5" r="18.1"/>
<circle class="B" cx="183.3" cy="1234.5" r="18.1"/>
<circle class="B" cx="186.3" cy="1232.9" r="18.1"/>
<circle class="B" cx="189.3" cy="1232.3" r="18.1"/>
<circle class="B" cx="192.3" cy="1230.4" r="18.1"/>
<circle class="B" cx="195.3" cy="1228.8" r="18.1"/>
<circle class="B" cx="198.3" cy="1226.4" r="18.1"/>
<circle class="B" cx="201.3" cy="1224.9" r="18.1"/>
<circle class="B" cx="204.3" cy="1223.7" r="18.1"/>
<circle class="B" cx="207.3" cy="1223.1" r="18.1"/>
<circle class="B" cx="210.3" cy="1221.7" r="18.1"/>
<circle class="B" cx="213.3" cy="1221.1" r="18.1"/>
<circle class="B" cx="216.3" cy="1220.3" r="18.1"/>
<circle class="B" cx="219.3" cy="1220.6" r="18.1"/>
<circle class="B" cx="222.3" cy="1218.8" r="18.1"/>
<circle class="B" cx="225.3" cy="1217.7" r="18.1"/>
<circle class="B" cx="228.3" cy="1218.5" r="18.1"/>
<circle class="B" cx="231.3" cy="1218.2" r="18.1"/>
<circle class="B" cx="234.3" cy="1217.3" r="18.1"/>
<circle class="B" cx="237.3" cy="1216.4" r="18.1"/>
<circle class="B" cx="240.3" cy="1216.1" r="18.1"/>
<circle class="B" cx="243.3" cy="1214.2" r="18.1"/>
<circle class="B" cx="246.3" cy="1213.7" r="18.1"/>
<circle class="B" cx="249.3" cy="1211.6" r="18.1"/>
<circle class="B" cx="252.3" cy="1210.6" r="18.1"/>
<circle class="B" cx="255.3" cy="1210.2" r="18.1"/>
<circle class="B" cx="258.3" cy="1209.3" r="18.1"/>
<circle class="B" cx="261.3" cy="1208.0" r="18.1"/>
<circle class="B" cx="264.3" cy="1206.2" r="18.1"/>
<circle class="B" cx="267.3" cy="1206.3" r="18.1"/>
<circle class="B" cx="270.3" cy="1204.7" r="18.1"/>
<circle class="B" cx="273.3" cy="1203.0" r="18.1"/>
<circle class="B" cx="276.3" cy="1201.9" r="18.1"/>
<circle class="B" cx="279.3" cy="1200.9" r="18.1"/>
<circle class="B" cx="282.3" cy="1199.4" r="18.1"/>
<circle class="B" cx="285.3" cy="1197.8" r="18.1"/>
<circle class="B" cx="288.3" cy="1198.3" r="18.1"/>
<circle class="B" cx="291.3" cy="1197.1" r="18.1"/>
<circle class="B" cx="294.3" cy="1195.1" r="18.1"/>
<circle class="B" cx="297.3" cy="1194.0" r="18.1"/>
<circle class="B" cx="180.7" cy="1194.0" r="18.1"/>
<circle class="B" cx="181.1" cy="1197.0" r="18.1"/>
<circle class="B" cx="180.5" cy="1200.0" r="18.1"/>
<circle class="B" cx="181.0" cy="1203.0" r="18.1"/>
<circle class="B" cx="180.9" cy="1206.0" r="18.1"/>
<circle class="B" cx="181.2" cy="1209.0" r="18.1"/>
<circle class="B" cx="180.4" cy="1212.0" r="18.1"/>
<circle class="B" cx="181.1" cy="1215.0" r="18.1"/>
<circle class="B" cx="180.4" cy="1218.0" r="18.1"/>
<circle class="B" cx="180.8" cy="1221.0" r="18.1"/>
<circle class="B" cx="181.3" cy="1224.0" r="18.1"/>
<circle class="B" cx="180.3" cy="1227.0" r="18.1"/>
<circle class="B" cx="180.5" cy="1230.0" r="18.1"/>
<circle class="B" cx="180.6" cy="1233.0" r="18.1"/>
<circle class="B" cx="328.2" cy="1176.2" r="18.1"/>
<circle class="B" cx="335.3" cy="1165.7" r="18.1"/>
<circle class="B" cx="299.1" cy="1179.3" r="18.1"/>
<circle class="B" cx="342.8" cy="1155.1" r="18.1"/>
<circle class="B" cx="384.8" cy="1134.1" r="18.1"/>
<circle class="B" cx="342.8" cy="1168.7" r="18.1"/>
<circle class="B" cx="316.0" cy="1167.7" r="18.1"/>
<circle class="B" cx="301.0" cy="1186.3" r="18.1"/>
<circle class="B" cx="366.6" cy="1147.5" r="18.1"/>
<circle class="B" cx="340.1" cy="1155.0" r="18.1"/>
<circle class="B" cx="366.3" cy="1138.5" r="18.1"/>
<circle class="B" cx="332.9" cy="1173.6" r="18.1"/>
<circle class="B" cx="318.7" cy="1181.5" r="18.1"/>
<circle class="B" cx="323.4" cy="1161.4" r="18.1"/>
<circle class="B" cx="339.6" cy="1162.3" r="18.1"/>
<circle class="B" cx="355.4" cy="1146.9" r="18.1"/>
<circle class="B" cx="304.6" cy="1185.0" r="18.1"/>
<circle class="B" cx="323.6" cy="1163.3" r="18.1"/>
<circle class="B" cx="393.8" cy="1125.6" r="18.1"/>
<circle class="B" cx="334.1" cy="1164.5" r="18.1"/>
<circle class="B" cx="331.6" cy="1172.0" r="18.1"/>
<circle class="B" cx="346.1" cy="1162.5" r="18.1"/>
<circle class="B" cx="390.2" cy="1129.3" r="18.1"/>
<circle class="B" cx="356.2" cy="1150.5" r="18.1"/>
<circle class="B" cx="319.4" cy="1166.4" r="18.1"/>
<circle class="B" cx="345.4" cy="1160.8" r="18.1"/>
<circle class="B" cx="313.8" cy="1165.4" r="18.1"/>
<circle class="B" cx="339.0" cy="1156.5" r="18.1"/>
<circle class="B" cx="303.2" cy="1182.1" r="18.1"/>
<circle class="B" cx="374.4" cy="1133.1" r="18.1"/>
<circle class="B" cx="300.2" cy="1184.7" r="18.1"/>
<circle class="B" cx="322.2" cy="1162.1" r="18.1"/>
<circle class="B" cx="313.0" cy="1168.7" r="18.1"/>
<circle class="B" cx="302.1" cy="1178.8" r="18.1"/>
<circle class="B" cx="392.1" cy="1126.7" r="18.1"/>
<circle class="B" cx="393.6" cy="1125.7" r="18.1"/>
<circle class="B" cx="299.9" cy="1190.0" r="18.1"/>
<circle class="B" cx="334.9" cy="1162.4" r="18.1"/>
<circle class="B" cx="299.4" cy="1187.8" r="18.1"/>
<circle class="B" cx="318.8" cy="1173.7" r="18.1"/>
<circle class="B" cx="341.7" cy="1157.3" r="18.1"/>
<circle class="B" cx="299.9" cy="1185.4" r="18.1"/>
<circle class="B" cx="330.0" cy="1174.6" r="18.1"/>
<circle class="B" cx="383.8" cy="1130.7" r="18.1"/>
<circle class="B" cx="333.7" cy="1158.3" r="18.1"/>
<circle class="B" cx="314.2" cy="1168.2" r="18.1"/>
<circle class="B" cx="317.2" cy="1169.4" r="18.1"/>
<circle class="B" cx="381.4" cy="1131.9" r="18.1"/>
<circle class="B" cx="364.4" cy="1141.5" r="18.1"/>
<circle class="B" cx="314.0" cy="1172.9" r="18.1"/>
<circle class="B" cx="366.8" cy="1141.4" r="18.1"/>
<circle class="B" cx="388.7" cy="1130.4" r="18.1"/>
<circle class="B" cx="385.8" cy="1129.1" r="18.1"/>
<circle class="B" cx="304.2" cy="1176.9" r="18.1"/>
<circle class="B" cx="347.4" cy="1154.9" r="18.1"/>
<circle class="B" cx="300.0" cy="1184.3" r="18.1"/>
<circle class="B" cx="326.9" cy="1169.2" r="18.1"/>
<circle class="B" cx="366.0" cy="1148.6" r="18.1"/>
<circle class="B" cx="310.6" cy="1172.5" r="18.1"/>
<circle class="B" cx="336.1" cy="1171.6" r="18.1"/>
<circle class="B" cx="324.9" cy="1163.2" r="18.1"/>
<circle class="B" cx="298.4" cy="1184.5" r="18.1"/>
<circle class="B" cx="300.0" cy="1174.9" r="18.1"/>
<circle class="B" cx="307.0" cy="1168.2" r="18.1"/>
<circle class="B" cx="314.0" cy="1165.6" r="18.1"/>
<circle class="B" cx="321.0" cy="1162.6" r="18.1"/>
<circle class="B" cx="328.0" cy="1155.7" r="18.1"/>
<circle class="B" cx="335.0" cy="1153.6" r="18.1"/>
<circle class="B" cx="342.0" cy="1149.4" r="18.1"/>
<circle class="B" cx="349.0" cy="1146.6" r="18.1"/>
<circle class="B" cx="356.0" cy="1142.3" r="18.1"/>
<circle class="B" cx="300.0" cy="1190.9" r="18.1"/>
<circle class="B" cx="307.0" cy="1189.2" r="18.1"/>
<circle class="B" cx="314.0" cy="1183.6" r="18.1"/>
<circle class="B" cx="321.0" cy="1181.6" r="18.1"/>
<circle class="B" cx="328.0" cy="1178.1" r="18.1"/>
<circle class="B" cx="335.0" cy="1173.4" r="18.1"/>
<circle class="B" cx="342.0" cy="1171.3" r="18.1"/>
<circle class="B" cx="349.0" cy="1167.8" r="18.1"/>
<circle class="B" cx="356.0" cy="1163.1" r="18.1"/>
<circle class="B" cx="362.0" cy="1087.2" r="18.1"/>
<circle class="B" cx="364.2" cy="1093.5" r="18.1"/>
<circle class="B" cx="360.0" cy="1097.3" r="18.1"/>
<circle class="B" cx="361.3" cy="1085.9" r="18.1"/>
<circle class="B" cx="363.2" cy="1092.4" r="18.1"/>
<circle class="B" cx="198.9" cy="1186.0" r="18.1"/>
<circle class="B" cx="246.8" cy="1186.2" r="18.1"/>
<circle class="B" cx="227.6" cy="1181.0" r="18.1"/>
<circle class="B" cx="229.1" cy="1176.2" r="18.1"/>
<circle class="B" cx="250.7" cy="1182.7" r="18.1"/>
<circle class="B" cx="211.2" cy="1175.2" r="18.1"/>
<circle class="B" cx="287.1" cy="1173.8" r="18.1"/>
<circle class="B" cx="260.5" cy="1178.1" r="18.1"/>
<circle class="B" cx="254.2" cy="1189.0" r="18.1"/>
<circle class="B" cx="249.6" cy="1189.3" r="18.1"/>
<circle class="B" cx="255.7" cy="1184.3" r="18.1"/>
<circle class="B" cx="230.5" cy="1179.9" r="18.1"/>
<circle class="B" cx="285.7" cy="1172.1" r="18.1"/>
<circle class="B" cx="185.5" cy="1184.8" r="18.1"/>
<circle class="B" cx="217.7" cy="1180.1" r="18.1"/>
<circle class="B" cx="198.8" cy="1180.4" r="18.1"/>
<circle class="B" cx="261.9" cy="1178.6" r="18.1"/>
<circle class="B" cx="245.7" cy="1182.1" r="18.1"/>
<circle class="B" cx="239.7" cy="1186.1" r="18.1"/>
<circle class="B" cx="255.3" cy="1183.5" r="18.1"/>
<circle class="B" cx="296.3" cy="1166.2" r="18.1"/>
<circle class="B" cx="286.5" cy="1170.8" r="18.1"/>
<circle class="B" cx="263.8" cy="1184.5" r="18.1"/>
<circle class="B" cx="279.1" cy="1172.5" r="18.1"/>
<circle class="B" cx="239.4" cy="1184.9" r="18.1"/>
<circle class="B" cx="215.0" cy="1187.2" r="18.1"/>
<circle class="B" cx="209.2" cy="1179.4" r="18.1"/>
<circle class="B" cx="202.2" cy="1184.6" r="18.1"/>
<circle class="B" cx="188.5" cy="1182.8" r="18.1"/>
<circle class="B" cx="264.9" cy="1176.8" r="18.1"/>
<circle class="B" cx="272.9" cy="1179.8" r="18.1"/>
<circle class="B" cx="284.1" cy="1179.3" r="18.1"/>
<circle class="B" cx="211.2" cy="1183.4" r="18.1"/>
<circle class="B" cx="227.7" cy="1186.7" r="18.1"/>
<circle class="B" cx="266.2" cy="1179.5" r="18.1"/>
<circle class="B" cx="271.4" cy="1185.3" r="18.1"/>
<circle class="B" cx="248.5" cy="1182.2" r="18.1"/>
<circle class="B" cx="255.1" cy="1187.2" r="18.1"/>
<circle class="B" cx="195.9" cy="1183.8" r="18.1"/>
<circle class="B" cx="208.5" cy="1178.4" r="18.1"/>
<circle class="B" cx="250.7" cy="1189.1" r="18.1"/>
<circle class="B" cx="196.9" cy="1187.9" r="18.1"/>
<circle class="B" cx="256.1" cy="1181.3" r="18.1"/>
<circle class="B" cx="298.7" cy="1161.3" r="18.1"/>
<circle class="B" cx="195.1" cy="1179.5" r="18.1"/>
<circle class="B" cx="268.0" cy="1188.1" r="18.1"/>
<circle class="B" cx="220.3" cy="1174.5" r="18.1"/>
<circle class="B" cx="238.5" cy="1182.1" r="18.1"/>
<circle class="B" cx="276.3" cy="1182.8" r="18.1"/>
<circle class="B" cx="227.6" cy="1185.1" r="18.1"/>
<circle class="B" cx="183.0" cy="1186.0" r="18.1"/>
<circle class="B" cx="188.0" cy="1181.9" r="18.1"/>
<circle class="B" cx="193.0" cy="1180.5" r="18.1"/>
<circle class="B" cx="198.0" cy="1177.9" r="18.1"/>
<circle class="B" cx="203.0" cy="1177.6" r="18.1"/>
<circle class="B" cx="208.0" cy="1174.5" r="18.1"/>
<circle class="B" cx="213.0" cy="1173.4" r="18.1"/>
<circle class="B" cx="218.0" cy="1172.5" r="18.1"/>
<circle class="B" cx="223.0" cy="1175.7" r="18.1"/>
<circle class="B" cx="228.0" cy="1174.4" r="18.1"/>
<circle class="B" cx="233.0" cy="1175.9" r="18.1"/>
<circle class="B" cx="238.0" cy="1175.6" r="18.1"/>
<circle class="B" cx="243.0" cy="1176.3" r="18.1"/>
<circle class="B" cx="248.0" cy="1175.0" r="18.1"/>
<circle class="B" cx="253.0" cy="1176.3" r="18.1"/>
<circle class="B" cx="258.0" cy="1174.7" r="18.1"/>
<circle class="B" cx="263.0" cy="1175.8" r="18.1"/>
<circle class="B" cx="268.0" cy="1174.5" r="18.1"/>
<circle class="B" cx="273.0" cy="1172.7" r="18.1"/>
<circle class="B" cx="278.0" cy="1170.9" r="18.1"/>
<circle class="B" cx="283.0" cy="1168.1" r="18.1"/>
<circle class="B" cx="288.0" cy="1165.3" r="18.1"/>
<circle class="B" cx="293.0" cy="1162.2" r="18.1"/>
<circle class="B" cx="298.0" cy="1159.7" r="18.1"/>
<circle class="B" cx="407.1" cy="1084.3" r="18.1"/>
<circle class="B" cx="309.4" cy="1138.7" r="18.1"/>
<circle class="B" cx="358.0" cy="1135.9" r="18.1"/>
<circle class="B" cx="324.3" cy="1151.3" r="18.1"/>
<circle class="B" cx="358.1" cy="1118.4" r="18.1"/>
<circle class="B" cx="396.8" cy="1093.7" r="18.1"/>
<circle class="B" cx="306.9" cy="1151.0" r="18.1"/>
<circle class="B" cx="378.8" cy="1112.0" r="18.1"/>
<circle class="B" cx="333.3" cy="1148.5" r="18.1"/>
<circle class="B" cx="403.8" cy="1107.1" r="18.1"/>
<circle class="B" cx="353.2" cy="1133.9" r="18.1"/>
<circle class="B" cx="387.0" cy="1093.4" r="18.1"/>
<circle class="B" cx="303.2" cy="1141.5" r="18.1"/>
<circle class="B" cx="314.3" cy="1132.9" r="18.1"/>
<circle class="B" cx="343.1" cy="1183.1" r="18.1"/>
<circle class="B" cx="337.2" cy="1180.0" r="18.1"/>
<circle class="B" cx="301.3" cy="1191.1" r="18.1"/>
<circle class="B" cx="415.1" cy="1117.9" r="18.1"/>
<circle class="B" cx="363.3" cy="1172.7" r="18.1"/>
<circle class="B" cx="395.1" cy="1150.8" r="18.1"/>
<circle class="B" cx="347.9" cy="1181.6" r="18.1"/>
<circle class="B" cx="399.3" cy="1148.9" r="18.1"/>
<circle class="B" cx="418.3" cy="1118.2" r="18.1"/>
<circle class="B" cx="414.0" cy="1129.2" r="18.1"/>
<circle class="B" cx="384.6" cy="1144.4" r="18.1"/>
<circle class="B" cx="409.2" cy="1122.3" r="18.1"/>
<circle class="B" cx="369.2" cy="1153.4" r="18.1"/>
<circle class="B" cx="346.6" cy="1170.7" r="18.1"/>
<circle class="b" cx="1135.9" cy="320.9" r="18.1"/>
<circle class="b" cx="1024.1" cy="432.8" r="18.1"/>
<circle class="b" cx="1021.4" cy="520.5" r="18.1"/>
<circle class="b" cx="1057.4" cy="566.5" r="18.1"/>
<circle class="b" cx="900.1" cy="550.7" r="18.1"/>
<circle class="b" cx="891.7" cy="616.9" r="18.1"/>
<circle class="b" cx="880.0" cy="619.7" r="18.1"/>
<circle class="b" cx="810.1" cy="636.2" r="18.1"/>
<circle class="b" cx="737.7" cy="690.4" r="18.1"/>
<circle class="b" cx="774.8" cy="708.8" r="18.1"/>
<circle class="b" cx="780.5" cy="723.7" r="18.1"/>
<circle class="b" cx="752.6" cy="764.8" r="18.1"/>
<circle class="b" cx="748.3" cy="785.9" r="18.1"/>
<circle class="b" cx="675.9" cy="789.9" r="18.1"/>
<circle class="b" cx="686.6" cy="801.6" r="18.1"/>
<circle class="b" cx="610.3" cy="797.2" r="18.1"/>
<circle class="b" cx="637.0" cy="843.2" r="18.1"/>
<circle class="b" cx="635.7" cy="861.9" r="18.1"/>
<circle class="b" cx="647.2" cy="869.3" r="18.1"/>
<circle class="b" cx="632.6" cy="875.7" r="18.1"/>
<circle class="b" cx="848.7" cy="884.2" r="18.1"/>
<circle class="b" cx="585.4" cy="839.9" r="18.1"/>
<circle class="b" cx="513.9" cy="896.1" r="18.1"/>
<circle class="b" cx="508.6" cy="919.2" r="18.1"/>
<circle class="b" cx="499.3" cy="941.4" r="18.1"/>
<circle class="b" cx="495.5" cy="962.7" r="18.1"/>
<circle class="b" cx="408.8" cy="919.8" r="18.1"/>
<circle class="b" cx="615.8" cy="922.8" r="18.1"/>
<circle class="b" cx="679.3" cy="965.4" r="18.1"/>
<circle class="b" cx="522.8" cy="966.5" r="18.1"/>
<circle class="b" cx="521.7" cy="972.7" r="18.1"/>
<circle class="b" cx="554.8" cy="973.2" r="18.1"/>
<circle class="b" cx="521.7" cy="996.5" r="18.1"/>
<circle class="b" cx="462.2" cy="1003.6" r="18.1"/>
<circle class="b" cx="591.4" cy="998.0" r="18.1"/>
<circle class="b" cx="594.7" cy="1018.7" r="18.1"/>
<circle class="b" cx="589.9" cy="1034.2" r="18.1"/>
<circle class="b" cx="637.6" cy="1025.4" r="18.1"/>
<circle class="b" cx="523.7" cy="1024.2" r="18.1"/>
<circle class="b" cx="492.2" cy="1039.8" r="18.1"/>
<circle class="b" cx="220.6" cy="926.4" r="18.1"/>
<circle class="b" cx="230.8" cy="948.5" r="18.1"/>
<circle class="b" cx="281.8" cy="975.1" r="18.1"/>
<circle class="b" cx="342.1" cy="916.8" r="18.1"/>
<circle class="b" cx="381.7" cy="971.8" r="18.1"/>
<circle class="b" cx="350.3" cy="1008.4" r="18.1"/>
<circle class="b" cx="329.3" cy="1023.2" r="18.1"/>
<circle class="b" cx="342.6" cy="1030.3" r="18.1"/>
<circle class="b" cx="325.5" cy="1045.9" r="18.1"/>
<circle class="b" cx="359.2" cy="1069.4" r="18.1"/>
<circle class="b" cx="332.6" cy="1078.1" r="18.1"/>
<circle class="b" cx="330.7" cy="1091.5" r="18.1"/>
<circle class="b" cx="241.2" cy="1100.2" r="18.1"/>
<circle class="b" cx="194.1" cy="1109.8" r="18.1"/>
<circle class="b" cx="295.7" cy="1110.8" r="18.1"/>
<circle class="b" cx="525.5" cy="999.4" r="18.1"/>
<circle class="b" cx="537.9" cy="1030.5" r="18.1"/>
<circle class="b" cx="530.2" cy="1046.0" r="18.1"/>
<circle class="b" cx="549.3" cy="1046.5" r="18.1"/>
<circle class="b" cx="557.1" cy="1057.4" r="18.1"/>
<circle class="b" cx="441.0" cy="1063.6" r="18.1"/>
<circle class="b" cx="478.3" cy="1070.4" r="18.1"/>
<circle class="b" cx="500.1" cy="1070.9" r="18.1"/>
<circle class="b" cx="507.4" cy="1074.0" r="18.1"/>
<circle class="b" cx="512.5" cy="1088.5" r="18.1"/>
<circle class="b" cx="591.5" cy="1065.9" r="18.1"/>
<circle class="b" cx="489.0" cy="1098.5" r="18.1"/>
<circle class="b" cx="462.0" cy="1094.3" r="18.1"/>
<circle class="b" cx="452.0" cy="1103.2" r="18.1"/>
<circle class="b" cx="422.4" cy="1125.7" r="18.1"/>
<circle class="b" cx="419.4" cy="1110.9" r="18.1"/>
<circle class="b" cx="238.3" cy="1129.1" r="18.1"/>
<circle class="b" cx="239.3" cy="1134.2" r="18.1"/>
<circle class="b" cx="238.8" cy="1146.7" r="18.1"/>
<circle class="b" cx="238.3" cy="1157.0" r="18.1"/>
<circle class="b" cx="186.5" cy="1149.8" r="18.1"/>
<circle class="b" cx="183.9" cy="1160.2" r="18.1"/>
<circle class="b" cx="282.8" cy="1136.8" r="18.1"/>
<circle class="b" cx="279.7" cy="1133.2" r="18.1"/>
<circle class="b" cx="445.1" cy="1068.7" r="18.1"/>
<circle class="b" cx="425.5" cy="1077.0" r="18.1"/>
<circle class="b" cx="404.2" cy="1090.0" r="18.1"/>
<circle class="b" cx="401.9" cy="1106.6" r="18.1"/>
<circle class="b" cx="364.0" cy="1092.4" r="18.1"/>
<circle class="b" cx="368.1" cy="1095.3" r="18.1"/>
<circle class="b" cx="358.6" cy="1089.4" r="18.1"/>
<circle class="b" cx="306.6" cy="1196.6" r="18.1"/>
<circle class="b" cx="403.2" cy="1144.4" r="18.1"/>
<circle class="b" cx="374.8" cy="1172.0" r="18.1"/>
<circle class="b" cx="346.8" cy="1185.7" r="18.1"/>
<circle class="b" cx="345.5" cy="1178.6" r="18.1"/>
<circle class="b" cx="344.2" cy="1173.3" r="18.1"/>
</g>
<clipPath id="axclip"><rect x="179.2" y="15.0" width="1161.0" height="1221.3"/></clipPath>
<path d="M179.2 1229.0 L187.6 1226.1 L195.9 1223.2 L204.3 1220.2 L212.7 1217.0 L221.0 1213.8 L229.4 1210.4 L237.8 1207.0 L246.2 1203.4 L254.5 1199.7 L262.9 1196.0 L271.3 1192.1 L279.6 1188.1 L288.0 1184.1 L296.4 1179.9 L304.7 1175.6 L313.1 1171.2 L321.5 1166.7 L329.8 1162.1 L338.2 1157.4 L346.6 1152.6 L355.0 1147.7 L363.3 1142.7 L371.7 1137.5 L380.1 1132.3 L388.4 1127.0 L396.8 1121.5 L405.2 1116.0 L413.5 1110.3 L421.9 1104.5 L430.3 1098.7 L438.7 1092.7 L447.0 1086.6 L455.4 1080.4 L463.8 1074.1 L472.1 1067.7 L480.5 1061.2 L488.9 1054.5 L497.2 1047.8 L505.6 1041.0 L514.0 1034.0 L522.3 1027.0 L530.7 1019.8 L539.1 1012.6 L547.5 1005.2 L555.8 997.8 L564.2 990.3 L572.6 982.6 L580.9 974.9 L589.3 967.0 L597.7 959.1 L606.0 951.1 L614.4 942.9 L622.8 934.7 L631.1 926.4 L639.5 918.0 L647.9 909.5 L656.3 900.9 L664.6 892.2 L673.0 883.5 L681.4 874.6 L689.7 865.6 L698.1 856.6 L706.5 847.4 L714.8 838.2 L723.2 828.8 L731.6 819.4 L740.0 809.8 L748.3 800.2 L756.7 790.5 L765.1 780.6 L773.4 770.7 L781.8 760.6 L790.2 750.5 L798.5 740.2 L806.9 729.8 L815.3 719.4 L823.6 708.8 L832.0 698.1 L840.4 687.3 L848.8 676.4 L857.1 665.4 L865.5 654.3 L873.9 643.0 L882.2 631.7 L890.6 620.3 L899.0 608.7 L907.3 597.1 L915.7 585.3 L924.1 573.4 L932.4 561.5 L940.8 549.4 L949.2 537.2 L957.6 524.9 L965.9 512.5 L974.3 500.0 L982.7 487.4 L991.0 474.7 L999.4 461.9 L1007.8 449.0 L1016.1 436.0 L1024.5 422.9 L1032.9 409.6 L1041.2 396.3 L1049.6 382.9 L1058.0 369.3 L1066.4 355.7 L1074.7 341.9 L1083.1 328.1 L1091.5 314.2 L1099.8 300.1 L1108.2 285.9 L1116.6 271.7 L1124.9 257.3 L1133.3 242.9 L1141.7 228.3 L1150.1 213.6 L1158.4 198.8 L1166.8 184.0 L1175.2 169.0 L1183.5 153.9 L1191.9 138.7 L1200.3 123.4 L1208.6 108.0 L1217.0 92.5 L1225.4 76.9 L1233.7 61.2 L1242.1 45.4 L1250.5 29.5 L1258.9 13.5 L1267.2 -2.6" fill="none" stroke="#000" stroke-width="10.6" stroke-linejoin="round" clip-path="url(#axclip)"/>
<g id="legend">
<rect x="242.0" y="52.2" width="610.0" height="181.1" fill="#fff" stroke="#262626" stroke-width="3.3"/>
<circle class="r" cx="367.3" cy="90.1" r="19.85" style="stroke:#de0412;stroke-width:3.4"/>
<circle class="b" cx="367.3" cy="142.6" r="19.85" style="stroke-width:3.4"/>
<path d="M268.3 195.5 H466.2" stroke="#000" stroke-width="10.3" fill="none"/>
<text class="lg" x="486.0" y="103.0">pre-lockdown</text>
<text class="lg" x="486.0" y="156.0">lockdown</text>
<text class="lg" x="486.0" y="209.0">fitted line R = 0.99</text>
</g>
</svg>
</body>
</html>
